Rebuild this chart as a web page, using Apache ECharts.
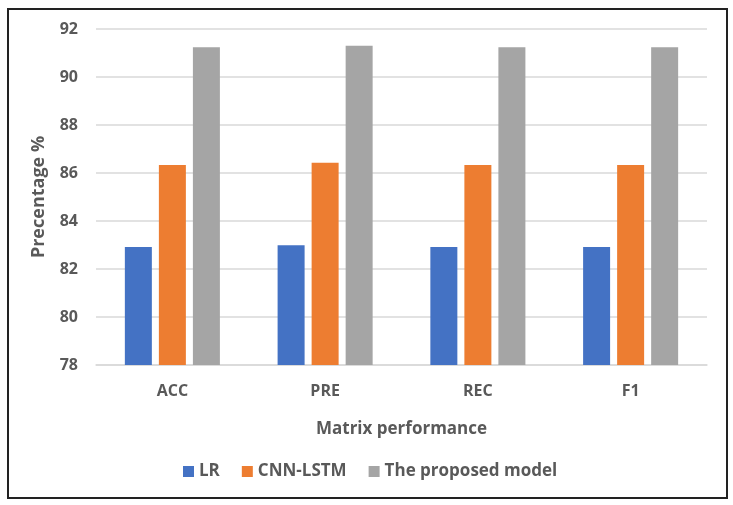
<!DOCTYPE html>
<html>
<head>
<meta charset="utf-8">
<script src="https://cdn.jsdelivr.net/npm/echarts@6/dist/echarts.min.js"></script>
<style>
html,body{margin:0;padding:0;background:#fff;}
#frame{position:absolute;left:7px;top:8px;width:717px;height:487px;border:2px solid #222;box-sizing:content-box;}
#chart{position:absolute;left:0;top:0;width:733px;height:505px;}
</style>
</head>
<body>
<div id="frame"></div>
<div id="chart"></div>
<script>
const categories = ['ACC', 'PRE', 'REC', 'F1'];
const seriesNames = ['LR', 'CNN-LSTM', 'The proposed model'];
const lrValues = [82.92, 82.99, 82.92, 82.92];
const cnnLstmValues = [86.33, 86.43, 86.33, 86.33];
const proposedValues = [91.24, 91.30, 91.24, 91.24];
const colors = ['#4472C4', '#ED7D31', '#A5A5A5'];

const textColor = '#595959';
const fontFamily = '"Open Sans", Lato, sans-serif';
const chart = echarts.init(document.getElementById('chart'), null, {renderer: 'canvas'});
const allValues = [lrValues, cnnLstmValues, proposedValues];
chart.setOption({
  animation: false,
  color: colors,
  textStyle: {fontFamily: fontFamily},
  grid: {left: 96, right: 26, top: 29, bottom: 140, containLabel: false},
  legend: {
    left: 178, top: 458,
    itemWidth: 11, itemHeight: 11, itemGap: 22,
    icon: 'rect',
    textStyle: {color: textColor, fontSize: 17, fontWeight: 'bold', fontFamily: fontFamily},
    data: seriesNames
  },
  xAxis: {
    type: 'category',
    data: categories,
    name: 'Matrix performance',
    nameLocation: 'middle',
    nameGap: 56,
    nameTextStyle: {color: textColor, fontSize: 17, fontWeight: 'bold', fontFamily: fontFamily},
    axisLine: {lineStyle: {color: '#D9D9D9', width: 1.5}},
    axisTick: {show: false},
    axisLabel: {color: textColor, fontSize: 16, fontWeight: 'bold', margin: 18, fontFamily: fontFamily},
  },
  yAxis: {
    type: 'value',
    min: 78, max: 92, interval: 2,
    name: 'Precentage %',
    nameLocation: 'middle',
    nameGap: 48,
    nameTextStyle: {color: textColor, fontSize: 18, fontWeight: 'bold', fontFamily: fontFamily},
    axisLine: {show: false},
    axisTick: {show: false},
    axisLabel: {color: textColor, fontSize: 16, fontWeight: 'bold', margin: 18, fontFamily: fontFamily},
    splitLine: {lineStyle: {color: '#D9D9D9', width: 1.5}}
  },
  series: seriesNames.map((n, i) => ({
    name: n,
    type: 'bar',
    data: allValues[i],
    barWidth: 27,
    barGap: '26%',
    itemStyle: {color: colors[i]}
  }))
});
</script>
</body>
</html>
